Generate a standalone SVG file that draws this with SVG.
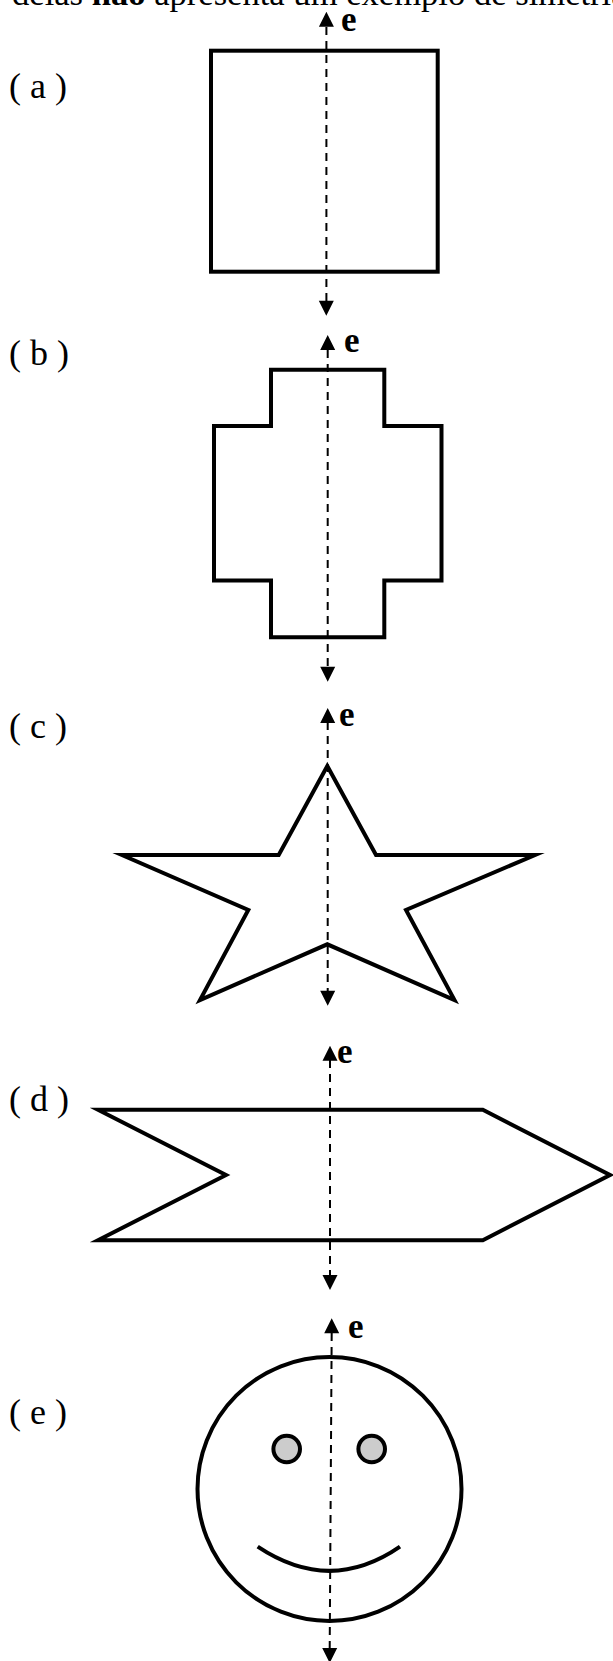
<svg xmlns="http://www.w3.org/2000/svg" width="613" height="1661" viewBox="0 0 613 1661">
<defs>
<style>
text{font-family:"Liberation Serif","Times New Roman",serif;fill:#000}
.t{font-size:36px}
.e{font-size:35px;font-weight:bold}
.s{fill:none;stroke:#000;stroke-width:4;stroke-miterlimit:12}
.d{stroke:#000;stroke-width:2;stroke-dasharray:8 6;fill:none}
.h{fill:#000;stroke:none}
</style>
</defs>
<rect width="613" height="1661" fill="#fff"/>
<text x="12" y="4.700" style="font-size:34.6px">delas <tspan font-weight="bold">não</tspan> apresenta um exemplo de simetria</text>
<g id="connectors">
<path class="d" d="M326.400 27V301"/><path class="h" d="M326.400 11.700l7.500 15h-15zM326.300 315.700l-7.500-15h15z"/>
<path class="d" d="M327.700 350V667"/><path class="h" d="M327.700 335l7.500 15h-15zM327.700 681.700l-7.500-15h15z"/>
<path class="d" d="M327.700 722V991"/><path class="h" d="M327.700 708l7.500 15h-15zM327.700 1005.700l-7.500-15h15z"/>
<path class="d" d="M330 1060V1276"/><path class="h" d="M330 1045.700l7.500 15h-15zM330 1290l-7.500-15h15z"/>
<path class="d" d="M331.700 1333L329.700 1649"/><path class="h" d="M331.700 1318.300l7.500 15h-15zM329.700 1663l-7.500-15h15z"/>
</g>
<g id="a"><text class="t" x="9" y="97.600">( a )</text><text class="e" x="341" y="30.700">e</text><rect class="s" x="211" y="50.700" width="226.700" height="221"/></g>
<g id="b"><text class="t" x="9" y="365">( b )</text><text class="e" x="344" y="352">e</text><path class="s" d="M271 369.700H384.300V426H441.500V580.500H384.300V637.300H271V580.500H214V426H271Z"/></g>
<g id="c"><text class="t" x="9" y="738">( c )</text><text class="e" x="339" y="726">e</text><path class="s" d="M327.300 766L376 855H535L406 910L454.500 1000L327.300 944.300L200 1000L248.300 910L122 855H278.700Z"/></g>
<g id="d"><text class="t" x="9" y="1111">( d )</text><text class="e" x="337" y="1063">e</text><path class="s" d="M98 1109.700H482.800L610 1175L482.800 1240.300H98L226 1175Z"/></g>
<g id="e"><text class="t" x="9" y="1424">( e )</text><text class="e" x="348" y="1338">e</text><circle class="s" cx="329.500" cy="1489" r="132"/>
<circle cx="286.700" cy="1449" r="13.300" fill="#ccc" stroke="#000" stroke-width="4"/><circle cx="371.700" cy="1449" r="13.300" fill="#ccc" stroke="#000" stroke-width="4"/>
<path class="s" d="M257.700 1546.700Q330 1595 400 1546.700"/></g>
</svg>
